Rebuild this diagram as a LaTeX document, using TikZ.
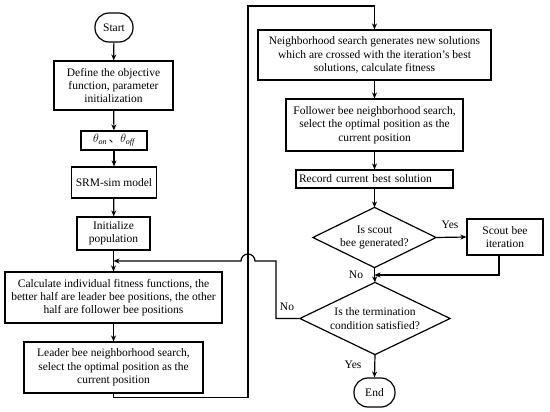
\documentclass[tikz,border=0pt]{standalone}
\usepackage{fontspec}
\setmainfont{Liberation Serif}
\newfontfamily\cjk{Noto Sans CJK SC}
\usetikzlibrary{shapes.geometric,arrows.meta}
\begin{document}
\begin{tikzpicture}[x=1pt,y=-1pt,
  font=\fontsize{11.5}{13.3}\selectfont,
  line width=1.2pt,
  box/.style={draw,rectangle,inner sep=0pt,align=center},
  term/.style={draw,rectangle,rounded corners=14pt,inner sep=0pt},
  dia/.style={rectangle,inner sep=0pt,align=center},
  arr/.style={-{Stealth[length=6pt,width=5pt]}},
  lbl/.style={inner sep=1pt}]
\useasboundingbox (0,0) rectangle (550,412);
% left column
\node[term,minimum width=38,minimum height=29] (start) at (114,27.5) {Start};
\node[box,minimum width=119,minimum height=49] (def) at (113.5,85.5) {Define the objective\\function, parameter\\initialization};
\node[box,minimum width=66,minimum height=19] (theta) at (114,140.5) {$\theta_{\mathit{on}}${\cjk\,、}$\theta_{\mathit{off}}$};
\node[box,minimum width=85,minimum height=31] (srm) at (114,182.5) {SRM-sim model};
\node[box,minimum width=73,minimum height=33] (init) at (113.5,233.5) {Initialize\\population};
\node[box,minimum width=217,minimum height=51] (calc) at (113.5,297.5) {Calculate individual fitness functions, the\\better half are leader bee positions, the other\\half are follower bee positions};
\node[box,minimum width=179,minimum height=51] (lead) at (113.5,367.5) {Leader bee neighborhood search,\\select the optimal position as the\\current position};
% right column
\node[box,minimum width=233,minimum height=50] (nbh) at (374.5,55) {Neighborhood search generates new solutions\\which are crossed with the iteration's best\\solutions, calculate fitness};
\node[box,minimum width=177,minimum height=52] (fol) at (374.5,125) {Follower bee neighborhood search,\\select the optimal position as the\\current position};
\node[box,minimum width=157,minimum height=18,text width=151,align=left] (rec) at (374.5,179) {Record current best solution};
\node[dia,minimum width=122,minimum height=59] (d1) at (374.5,237.5) {Is scout\\bee generated?};
\draw (d1.north) -- (d1.east) -- (d1.south) -- (d1.west) -- cycle;
\node[box,minimum width=76,minimum height=36] (scout) at (505,237) {Scout bee\\iteration};
\node[dia,minimum width=149,minimum height=71] (d2) at (375,318.5) {Is the termination\\condition satisfied?};
\draw (d2.north) -- (d2.east) -- (d2.south) -- (d2.west) -- cycle;
\node[term,minimum width=41,minimum height=29] (end) at (374.5,392.5) {End};
\coordinate (m1) at (113.5,261);
\coordinate (m2) at (374.5,275);
% connectors
\draw[arr] (start) -- (def);
\draw[arr] (def) -- (theta);
\draw[arr] (theta) -- (srm);
\draw[arr] (srm) -- (init);
\draw (init) -- (m1);
\draw[arr] (m1) -- (calc);
\draw[arr] (calc) -- (lead);
\draw[arr] (lead.south) -- ++(0,4) -| (248,6) -| (nbh.north);
\draw[arr] (nbh) -- (fol);
\draw[arr] (fol) -- (rec);
\draw[arr] (rec) -- (d1.north);
\draw[arr] (d1.east) -- (scout.west);
\node[lbl] (ylab1) at (450,225) {Yes};
\draw[arr] ([xshift=-6]scout.south) |- (m2);
\draw (d1.south) -- (m2);
\draw[arr] (m2) -- (d2.north);
\node[lbl] (nlab1) at (356,275) {No};
\draw[arr] (d2.south) -- (end.north);
\node[lbl] (ylab2) at (353,365) {Yes};
\draw[arr] (d2.west) -- (276,318.5) -- (276,261) -- (255,261) arc[start angle=0,end angle=-180,radius=7] -- (m1);
\node[lbl] (nlab2) at (287,307) {No};
\end{tikzpicture}
\end{document}
